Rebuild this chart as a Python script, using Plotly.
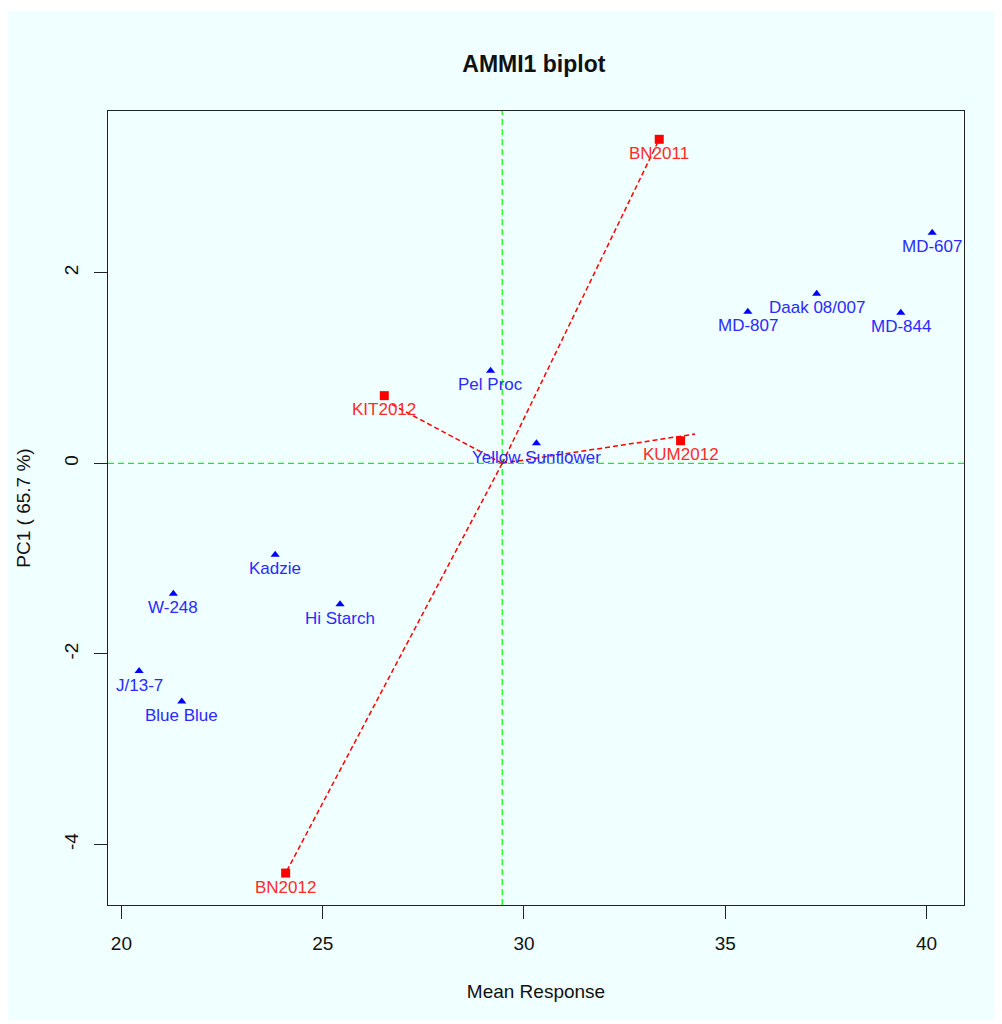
import plotly.graph_objects as go

# ---- data ----
gen_names = ["MD-607", "Daak 08/007", "MD-807", "MD-844", "Pel Proc",
             "Yellow Sunflower", "Kadzie", "W-248", "Hi Starch", "J/13-7", "Blue Blue"]
gen_mean = [40.14, 37.27, 35.56, 39.36, 29.17, 30.31, 23.82, 21.29, 25.43, 20.44, 21.50]
gen_pc1 = [2.42, 1.78, 1.59, 1.58, 0.97, 0.21, -0.96, -1.37, -1.48, -2.18, -2.50]

env_names = ["BN2011", "KIT2012", "KUM2012", "BN2012"]
env_mean = [33.36, 26.53, 33.89, 24.08]
env_pc1 = [3.40, 0.71, 0.237, -4.30]
env_line_end_x = [33.36, 26.71, 34.25, 24.08]
env_line_end_y = [3.40, 0.62, 0.307, -4.30]

grand_mean = 29.46
pc_center = 0.0

x_ticks = [20, 25, 30, 35, 40]
x_ticklabels = ["20", "25", "30", "35", "40"]
y_ticks = [-4, -2, 0, 2]
y_ticklabels = ["-4", "-2", "0", "2"]

x_range = [19.667, 40.93]
y_range = [-4.635, 3.697]

FONT = "Liberation Sans, Arial, sans-serif"
BG = "#F0FFFF"

fig = go.Figure()

# red dashed environment vectors
for ex, ey in zip(env_line_end_x, env_line_end_y):
    fig.add_trace(go.Scatter(x=[grand_mean, ex], y=[pc_center, ey], mode="lines",
                             line=dict(color="#FF0000", width=1.5, dash="5px,3px"),
                             hoverinfo="skip", showlegend=False))

# genotypes
fig.add_trace(go.Scatter(x=gen_mean, y=gen_pc1, mode="markers",
                         marker=dict(symbol="triangle-up", size=8, color="#0000FF"),
                         text=gen_names, showlegend=False))
# environments
fig.add_trace(go.Scatter(x=env_mean, y=env_pc1, mode="markers",
                         marker=dict(symbol="square", size=9, color="#FF0000"),
                         text=env_names, showlegend=False))

annotations = []
for nm, x, y in zip(gen_names, gen_mean, gen_pc1):
    annotations.append(dict(x=x, y=y, text=nm, showarrow=False, yshift=-14,
                            xanchor="center", yanchor="middle",
                            font=dict(family=FONT, size=17, color="#2A2AFF")))
for nm, x, y in zip(env_names, env_mean, env_pc1):
    annotations.append(dict(x=x, y=y, text=nm, showarrow=False, yshift=-14,
                            xanchor="center", yanchor="middle",
                            font=dict(family=FONT, size=17, color="#FF2A2A")))

shapes = [
    # page background panel
    dict(type="rect", xref="paper", yref="paper", x0=-0.1168, x1=1.1, y0=-0.1448, y1=1.1259,
         fillcolor=BG, line=dict(width=0), layer="below"),
    # green reference lines
    dict(type="line", xref="x", yref="paper", x0=grand_mean, x1=grand_mean, y0=0, y1=1,
         line=dict(color="#00FF00", width=1.2, dash="6px,4px"), layer="below"),
    dict(type="line", xref="paper", yref="y", x0=0, x1=1, y0=pc_center, y1=pc_center,
         line=dict(color="#00FF00", width=1.2, dash="6px,4px"), layer="below"),
]

axis_common = dict(showgrid=False, zeroline=False, showline=True, mirror=True,
                   linecolor="#222222", linewidth=1.2, ticks="outside", ticklen=13,
                   tickcolor="#222222", ticklabelstandoff=8,
                   tickfont=dict(family=FONT, size=19, color="#111111"))

fig.update_layout(
    width=994, height=1016,
    margin=dict(l=100, r=38, t=103, b=119),
    paper_bgcolor="white", plot_bgcolor=BG,
    title=dict(text="<b>AMMI1 biplot</b>", x=0.529, xanchor="center", y=0.9449,
               yref="container", yanchor="middle",
               font=dict(family=FONT, size=23, color="#111111")),
    xaxis=dict(range=x_range, tickvals=x_ticks, ticktext=x_ticklabels,
               title=dict(text="Mean Response", standoff=31,
                          font=dict(family=FONT, size=19, color="#111111")),
               **axis_common),
    yaxis=dict(range=y_range, tickvals=y_ticks, ticktext=y_ticklabels, tickangle=-90,
               title=dict(text="PC1 ( 65.7 %)", standoff=25,
                          font=dict(family=FONT, size=19, color="#111111")),
               **axis_common),
    shapes=shapes,
    annotations=annotations,
)

fig.write_html("out.html")
